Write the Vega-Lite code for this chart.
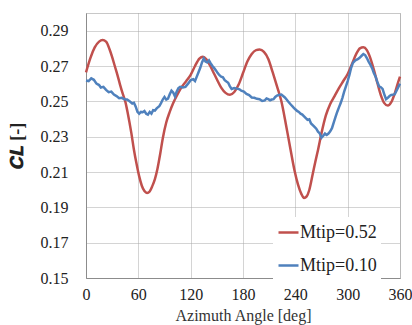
{
  "$schema": "https://vega.github.io/schema/vega-lite/v6.json",
  "autosize": {"type": "none"},
  "padding": {"left": 86, "top": 13, "right": 12, "bottom": 47},
  "width": 314,
  "height": 265,
  "background": "white",
  "config": {
    "font": "Liberation Serif, Times New Roman, serif",
    "view": {"stroke": "#c8c8c8", "strokeWidth": 1}
  },
  "data": {"values": [
    {"angle":0,"cl":0.2664,"series":"Mtip=0.52"},{"angle":5,"cl":0.2745,"series":"Mtip=0.52"},{"angle":10,"cl":0.2805,"series":"Mtip=0.52"},{"angle":15,"cl":0.2838,"series":"Mtip=0.52"},{"angle":19,"cl":0.2847,"series":"Mtip=0.52"},{"angle":23,"cl":0.2838,"series":"Mtip=0.52"},{"angle":27,"cl":0.2795,"series":"Mtip=0.52"},{"angle":30,"cl":0.275,"series":"Mtip=0.52"},{"angle":33,"cl":0.27,"series":"Mtip=0.52"},{"angle":36,"cl":0.265,"series":"Mtip=0.52"},{"angle":39,"cl":0.2595,"series":"Mtip=0.52"},{"angle":42,"cl":0.2545,"series":"Mtip=0.52"},{"angle":45,"cl":0.25,"series":"Mtip=0.52"},{"angle":48,"cl":0.243,"series":"Mtip=0.52"},{"angle":52,"cl":0.232,"series":"Mtip=0.52"},{"angle":55,"cl":0.2225,"series":"Mtip=0.52"},{"angle":58,"cl":0.2145,"series":"Mtip=0.52"},{"angle":61,"cl":0.2075,"series":"Mtip=0.52"},{"angle":64,"cl":0.2022,"series":"Mtip=0.52"},{"angle":67,"cl":0.1992,"series":"Mtip=0.52"},{"angle":70,"cl":0.1981,"series":"Mtip=0.52"},{"angle":73,"cl":0.199,"series":"Mtip=0.52"},{"angle":76,"cl":0.202,"series":"Mtip=0.52"},{"angle":79,"cl":0.206,"series":"Mtip=0.52"},{"angle":82,"cl":0.212,"series":"Mtip=0.52"},{"angle":85,"cl":0.22,"series":"Mtip=0.52"},{"angle":88,"cl":0.229,"series":"Mtip=0.52"},{"angle":92,"cl":0.238,"series":"Mtip=0.52"},{"angle":96,"cl":0.244,"series":"Mtip=0.52"},{"angle":100,"cl":0.249,"series":"Mtip=0.52"},{"angle":105,"cl":0.254,"series":"Mtip=0.52"},{"angle":110,"cl":0.2583,"series":"Mtip=0.52"},{"angle":115,"cl":0.2615,"series":"Mtip=0.52"},{"angle":120,"cl":0.265,"series":"Mtip=0.52"},{"angle":125,"cl":0.27,"series":"Mtip=0.52"},{"angle":130,"cl":0.2742,"series":"Mtip=0.52"},{"angle":134,"cl":0.2753,"series":"Mtip=0.52"},{"angle":138,"cl":0.2738,"series":"Mtip=0.52"},{"angle":142,"cl":0.2705,"series":"Mtip=0.52"},{"angle":146,"cl":0.2665,"series":"Mtip=0.52"},{"angle":150,"cl":0.2625,"series":"Mtip=0.52"},{"angle":155,"cl":0.2578,"series":"Mtip=0.52"},{"angle":160,"cl":0.2548,"series":"Mtip=0.52"},{"angle":165,"cl":0.2537,"series":"Mtip=0.52"},{"angle":170,"cl":0.2553,"series":"Mtip=0.52"},{"angle":175,"cl":0.2595,"series":"Mtip=0.52"},{"angle":180,"cl":0.266,"series":"Mtip=0.52"},{"angle":185,"cl":0.2725,"series":"Mtip=0.52"},{"angle":190,"cl":0.2768,"series":"Mtip=0.52"},{"angle":195,"cl":0.279,"series":"Mtip=0.52"},{"angle":199,"cl":0.2793,"series":"Mtip=0.52"},{"angle":204,"cl":0.278,"series":"Mtip=0.52"},{"angle":209,"cl":0.274,"series":"Mtip=0.52"},{"angle":214,"cl":0.2665,"series":"Mtip=0.52"},{"angle":219,"cl":0.2585,"series":"Mtip=0.52"},{"angle":224,"cl":0.25,"series":"Mtip=0.52"},{"angle":229,"cl":0.2375,"series":"Mtip=0.52"},{"angle":234,"cl":0.224,"series":"Mtip=0.52"},{"angle":239,"cl":0.211,"series":"Mtip=0.52"},{"angle":243,"cl":0.203,"series":"Mtip=0.52"},{"angle":247,"cl":0.1975,"series":"Mtip=0.52"},{"angle":250,"cl":0.1953,"series":"Mtip=0.52"},{"angle":253,"cl":0.1962,"series":"Mtip=0.52"},{"angle":256,"cl":0.1998,"series":"Mtip=0.52"},{"angle":260,"cl":0.209,"series":"Mtip=0.52"},{"angle":263,"cl":0.216,"series":"Mtip=0.52"},{"angle":266,"cl":0.2225,"series":"Mtip=0.52"},{"angle":270,"cl":0.232,"series":"Mtip=0.52"},{"angle":275,"cl":0.242,"series":"Mtip=0.52"},{"angle":280,"cl":0.2485,"series":"Mtip=0.52"},{"angle":285,"cl":0.253,"series":"Mtip=0.52"},{"angle":290,"cl":0.2575,"series":"Mtip=0.52"},{"angle":295,"cl":0.2615,"series":"Mtip=0.52"},{"angle":300,"cl":0.2655,"series":"Mtip=0.52"},{"angle":305,"cl":0.2712,"series":"Mtip=0.52"},{"angle":310,"cl":0.277,"series":"Mtip=0.52"},{"angle":314,"cl":0.28,"series":"Mtip=0.52"},{"angle":318,"cl":0.2806,"series":"Mtip=0.52"},{"angle":322,"cl":0.279,"series":"Mtip=0.52"},{"angle":326,"cl":0.2745,"series":"Mtip=0.52"},{"angle":330,"cl":0.268,"series":"Mtip=0.52"},{"angle":334,"cl":0.2605,"series":"Mtip=0.52"},{"angle":338,"cl":0.2535,"series":"Mtip=0.52"},{"angle":342,"cl":0.249,"series":"Mtip=0.52"},{"angle":346,"cl":0.2476,"series":"Mtip=0.52"},{"angle":350,"cl":0.2495,"series":"Mtip=0.52"},{"angle":354,"cl":0.2545,"series":"Mtip=0.52"},{"angle":358,"cl":0.261,"series":"Mtip=0.52"},{"angle":360,"cl":0.264,"series":"Mtip=0.52"},
    {"angle":0,"cl":0.2618,"series":"Mtip=0.10"},{"angle":3,"cl":0.2615,"series":"Mtip=0.10"},{"angle":6,"cl":0.263,"series":"Mtip=0.10"},{"angle":9,"cl":0.2622,"series":"Mtip=0.10"},{"angle":12,"cl":0.26,"series":"Mtip=0.10"},{"angle":15,"cl":0.2592,"series":"Mtip=0.10"},{"angle":17,"cl":0.2578,"series":"Mtip=0.10"},{"angle":20,"cl":0.2582,"series":"Mtip=0.10"},{"angle":23,"cl":0.2565,"series":"Mtip=0.10"},{"angle":26,"cl":0.2552,"series":"Mtip=0.10"},{"angle":29,"cl":0.2555,"series":"Mtip=0.10"},{"angle":32,"cl":0.2538,"series":"Mtip=0.10"},{"angle":35,"cl":0.253,"series":"Mtip=0.10"},{"angle":38,"cl":0.2518,"series":"Mtip=0.10"},{"angle":41,"cl":0.252,"series":"Mtip=0.10"},{"angle":44,"cl":0.2512,"series":"Mtip=0.10"},{"angle":47,"cl":0.2511,"series":"Mtip=0.10"},{"angle":50,"cl":0.25,"series":"Mtip=0.10"},{"angle":53,"cl":0.2488,"series":"Mtip=0.10"},{"angle":55,"cl":0.2492,"series":"Mtip=0.10"},{"angle":57,"cl":0.247,"series":"Mtip=0.10"},{"angle":59,"cl":0.244,"series":"Mtip=0.10"},{"angle":61,"cl":0.243,"series":"Mtip=0.10"},{"angle":63,"cl":0.244,"series":"Mtip=0.10"},{"angle":65,"cl":0.2438,"series":"Mtip=0.10"},{"angle":67,"cl":0.2445,"series":"Mtip=0.10"},{"angle":69,"cl":0.243,"series":"Mtip=0.10"},{"angle":71,"cl":0.2425,"series":"Mtip=0.10"},{"angle":73,"cl":0.244,"series":"Mtip=0.10"},{"angle":75,"cl":0.243,"series":"Mtip=0.10"},{"angle":77,"cl":0.245,"series":"Mtip=0.10"},{"angle":79,"cl":0.2448,"series":"Mtip=0.10"},{"angle":81,"cl":0.246,"series":"Mtip=0.10"},{"angle":84,"cl":0.2472,"series":"Mtip=0.10"},{"angle":86,"cl":0.249,"series":"Mtip=0.10"},{"angle":88,"cl":0.251,"series":"Mtip=0.10"},{"angle":90,"cl":0.2525,"series":"Mtip=0.10"},{"angle":92,"cl":0.251,"series":"Mtip=0.10"},{"angle":94,"cl":0.2515,"series":"Mtip=0.10"},{"angle":96,"cl":0.254,"series":"Mtip=0.10"},{"angle":98,"cl":0.256,"series":"Mtip=0.10"},{"angle":100,"cl":0.255,"series":"Mtip=0.10"},{"angle":102,"cl":0.2528,"series":"Mtip=0.10"},{"angle":104,"cl":0.2555,"series":"Mtip=0.10"},{"angle":106,"cl":0.2575,"series":"Mtip=0.10"},{"angle":108,"cl":0.2582,"series":"Mtip=0.10"},{"angle":111,"cl":0.2578,"series":"Mtip=0.10"},{"angle":114,"cl":0.2582,"series":"Mtip=0.10"},{"angle":117,"cl":0.26,"series":"Mtip=0.10"},{"angle":120,"cl":0.262,"series":"Mtip=0.10"},{"angle":123,"cl":0.2625,"series":"Mtip=0.10"},{"angle":125,"cl":0.2615,"series":"Mtip=0.10"},{"angle":127,"cl":0.264,"series":"Mtip=0.10"},{"angle":129,"cl":0.2665,"series":"Mtip=0.10"},{"angle":131,"cl":0.269,"series":"Mtip=0.10"},{"angle":133,"cl":0.272,"series":"Mtip=0.10"},{"angle":135,"cl":0.2742,"series":"Mtip=0.10"},{"angle":137,"cl":0.2725,"series":"Mtip=0.10"},{"angle":139,"cl":0.272,"series":"Mtip=0.10"},{"angle":141,"cl":0.2732,"series":"Mtip=0.10"},{"angle":143,"cl":0.2715,"series":"Mtip=0.10"},{"angle":145,"cl":0.27,"series":"Mtip=0.10"},{"angle":147,"cl":0.2688,"series":"Mtip=0.10"},{"angle":149,"cl":0.2675,"series":"Mtip=0.10"},{"angle":151,"cl":0.266,"series":"Mtip=0.10"},{"angle":153,"cl":0.2648,"series":"Mtip=0.10"},{"angle":155,"cl":0.264,"series":"Mtip=0.10"},{"angle":157,"cl":0.2636,"series":"Mtip=0.10"},{"angle":159,"cl":0.262,"series":"Mtip=0.10"},{"angle":161,"cl":0.2612,"series":"Mtip=0.10"},{"angle":163,"cl":0.2605,"series":"Mtip=0.10"},{"angle":165,"cl":0.2585,"series":"Mtip=0.10"},{"angle":167,"cl":0.257,"series":"Mtip=0.10"},{"angle":170,"cl":0.2575,"series":"Mtip=0.10"},{"angle":173,"cl":0.2572,"series":"Mtip=0.10"},{"angle":176,"cl":0.2568,"series":"Mtip=0.10"},{"angle":178,"cl":0.256,"series":"Mtip=0.10"},{"angle":181,"cl":0.2555,"series":"Mtip=0.10"},{"angle":184,"cl":0.2542,"series":"Mtip=0.10"},{"angle":187,"cl":0.2535,"series":"Mtip=0.10"},{"angle":190,"cl":0.2522,"series":"Mtip=0.10"},{"angle":193,"cl":0.252,"series":"Mtip=0.10"},{"angle":196,"cl":0.2514,"series":"Mtip=0.10"},{"angle":199,"cl":0.2512,"series":"Mtip=0.10"},{"angle":202,"cl":0.2502,"series":"Mtip=0.10"},{"angle":205,"cl":0.2505,"series":"Mtip=0.10"},{"angle":207,"cl":0.2516,"series":"Mtip=0.10"},{"angle":209,"cl":0.2512,"series":"Mtip=0.10"},{"angle":211,"cl":0.2506,"series":"Mtip=0.10"},{"angle":213,"cl":0.251,"series":"Mtip=0.10"},{"angle":215,"cl":0.2512,"series":"Mtip=0.10"},{"angle":217,"cl":0.2525,"series":"Mtip=0.10"},{"angle":219,"cl":0.2533,"series":"Mtip=0.10"},{"angle":221,"cl":0.2536,"series":"Mtip=0.10"},{"angle":224,"cl":0.2538,"series":"Mtip=0.10"},{"angle":226,"cl":0.253,"series":"Mtip=0.10"},{"angle":228,"cl":0.2522,"series":"Mtip=0.10"},{"angle":230,"cl":0.251,"series":"Mtip=0.10"},{"angle":232,"cl":0.2498,"series":"Mtip=0.10"},{"angle":234,"cl":0.2486,"series":"Mtip=0.10"},{"angle":236,"cl":0.2475,"series":"Mtip=0.10"},{"angle":238,"cl":0.2465,"series":"Mtip=0.10"},{"angle":240,"cl":0.2455,"series":"Mtip=0.10"},{"angle":242,"cl":0.2446,"series":"Mtip=0.10"},{"angle":244,"cl":0.244,"series":"Mtip=0.10"},{"angle":246,"cl":0.243,"series":"Mtip=0.10"},{"angle":248,"cl":0.2425,"series":"Mtip=0.10"},{"angle":250,"cl":0.2415,"series":"Mtip=0.10"},{"angle":252,"cl":0.2405,"series":"Mtip=0.10"},{"angle":254,"cl":0.2395,"series":"Mtip=0.10"},{"angle":256,"cl":0.2398,"series":"Mtip=0.10"},{"angle":258,"cl":0.2375,"series":"Mtip=0.10"},{"angle":260,"cl":0.2365,"series":"Mtip=0.10"},{"angle":262,"cl":0.2355,"series":"Mtip=0.10"},{"angle":264,"cl":0.2345,"series":"Mtip=0.10"},{"angle":266,"cl":0.2328,"series":"Mtip=0.10"},{"angle":268,"cl":0.2318,"series":"Mtip=0.10"},{"angle":270,"cl":0.2294,"series":"Mtip=0.10"},{"angle":272,"cl":0.2305,"series":"Mtip=0.10"},{"angle":274,"cl":0.2318,"series":"Mtip=0.10"},{"angle":276,"cl":0.231,"series":"Mtip=0.10"},{"angle":278,"cl":0.2318,"series":"Mtip=0.10"},{"angle":280,"cl":0.233,"series":"Mtip=0.10"},{"angle":282,"cl":0.2348,"series":"Mtip=0.10"},{"angle":284,"cl":0.238,"series":"Mtip=0.10"},{"angle":286,"cl":0.241,"series":"Mtip=0.10"},{"angle":288,"cl":0.244,"series":"Mtip=0.10"},{"angle":290,"cl":0.2466,"series":"Mtip=0.10"},{"angle":292,"cl":0.249,"series":"Mtip=0.10"},{"angle":294,"cl":0.252,"series":"Mtip=0.10"},{"angle":296,"cl":0.2555,"series":"Mtip=0.10"},{"angle":298,"cl":0.2585,"series":"Mtip=0.10"},{"angle":300,"cl":0.2615,"series":"Mtip=0.10"},{"angle":302,"cl":0.265,"series":"Mtip=0.10"},{"angle":304,"cl":0.269,"series":"Mtip=0.10"},{"angle":306,"cl":0.2718,"series":"Mtip=0.10"},{"angle":308,"cl":0.2728,"series":"Mtip=0.10"},{"angle":310,"cl":0.2735,"series":"Mtip=0.10"},{"angle":312,"cl":0.274,"series":"Mtip=0.10"},{"angle":314,"cl":0.2748,"series":"Mtip=0.10"},{"angle":316,"cl":0.2758,"series":"Mtip=0.10"},{"angle":318,"cl":0.2768,"series":"Mtip=0.10"},{"angle":320,"cl":0.2762,"series":"Mtip=0.10"},{"angle":322,"cl":0.2745,"series":"Mtip=0.10"},{"angle":324,"cl":0.2725,"series":"Mtip=0.10"},{"angle":326,"cl":0.2708,"series":"Mtip=0.10"},{"angle":328,"cl":0.2688,"series":"Mtip=0.10"},{"angle":330,"cl":0.266,"series":"Mtip=0.10"},{"angle":332,"cl":0.264,"series":"Mtip=0.10"},{"angle":334,"cl":0.261,"series":"Mtip=0.10"},{"angle":336,"cl":0.2585,"series":"Mtip=0.10"},{"angle":338,"cl":0.258,"series":"Mtip=0.10"},{"angle":340,"cl":0.257,"series":"Mtip=0.10"},{"angle":342,"cl":0.254,"series":"Mtip=0.10"},{"angle":344,"cl":0.2512,"series":"Mtip=0.10"},{"angle":346,"cl":0.252,"series":"Mtip=0.10"},{"angle":348,"cl":0.253,"series":"Mtip=0.10"},{"angle":350,"cl":0.2536,"series":"Mtip=0.10"},{"angle":352,"cl":0.2538,"series":"Mtip=0.10"},{"angle":354,"cl":0.254,"series":"Mtip=0.10"},{"angle":356,"cl":0.256,"series":"Mtip=0.10"},{"angle":358,"cl":0.258,"series":"Mtip=0.10"},{"angle":360,"cl":0.26,"series":"Mtip=0.10"}
  ]},
  "encoding": {
    "x": {
      "field": "angle", "type": "quantitative",
      "scale": {"domain": [0, 360], "nice": false, "zero": false},
      "axis": {
        "values": [0, 60, 120, 180, 240, 300, 360],
        "title": "Azimuth Angle [deg]",
        "titleFont": "Liberation Serif, Times New Roman, serif", "titleFontSize": 16, "titleFontWeight": "normal", "titleColor": "#333",
        "titlePadding": 5,
        "labelFont": "Liberation Serif, Times New Roman, serif", "labelFontSize": 16, "labelColor": "#222", "labelPadding": 8,
        "labelFlush": false,
        "ticks": false,
        "domainColor": "#8c8c8c",
        "gridColor": "#a8a8a8", "gridDash": [1, 1], "gridWidth": 1
      }
    },
    "y": {
      "field": "cl", "type": "quantitative",
      "scale": {"domain": [0.15, 0.30], "nice": false, "zero": false},
      "axis": {
        "values": [0.15, 0.17, 0.19, 0.21, 0.23, 0.25, 0.27, 0.29],
        "format": ".2f",
        "title": "𝑪𝑳 [-]",
        "titleFont": "Liberation Serif, Times New Roman, serif", "titleFontSize": 18, "titleFontWeight": "bold", "titleColor": "#222",
        "titlePadding": 14,
        "labelFont": "Liberation Serif, Times New Roman, serif", "labelFontSize": 16, "labelColor": "#222", "labelPadding": 18,
        "labelFlush": false,
        "ticks": false,
        "domainColor": "#8c8c8c",
        "gridColor": "#a8a8a8", "gridDash": [1, 1], "gridWidth": 1
      }
    },
    "color": {
      "field": "series", "type": "nominal",
      "scale": {"domain": ["Mtip=0.52", "Mtip=0.10"], "range": ["#C0504D", "#4F81BD"]},
      "legend": {
        "title": null,
        "orient": "none", "legendX": 187, "legendY": 204,
        "fillColor": "white", "padding": 4,
        "symbolType": "stroke", "symbolSize": 400, "symbolStrokeWidth": 2.5,
        "labelFont": "Liberation Serif, Times New Roman, serif", "labelFontSize": 18, "labelColor": "#222",
        "labelOffset": 0, "rowPadding": 12
      }
    }
  },
  "layer": [
    {
      "transform": [{"filter": "datum.series == 'Mtip=0.52'"}],
      "mark": {"type": "line", "interpolate": "monotone", "strokeWidth": 2.5}
    },
    {
      "transform": [{"filter": "datum.series == 'Mtip=0.10'"}],
      "mark": {"type": "line", "strokeWidth": 2.5}
    }
  ]
}
